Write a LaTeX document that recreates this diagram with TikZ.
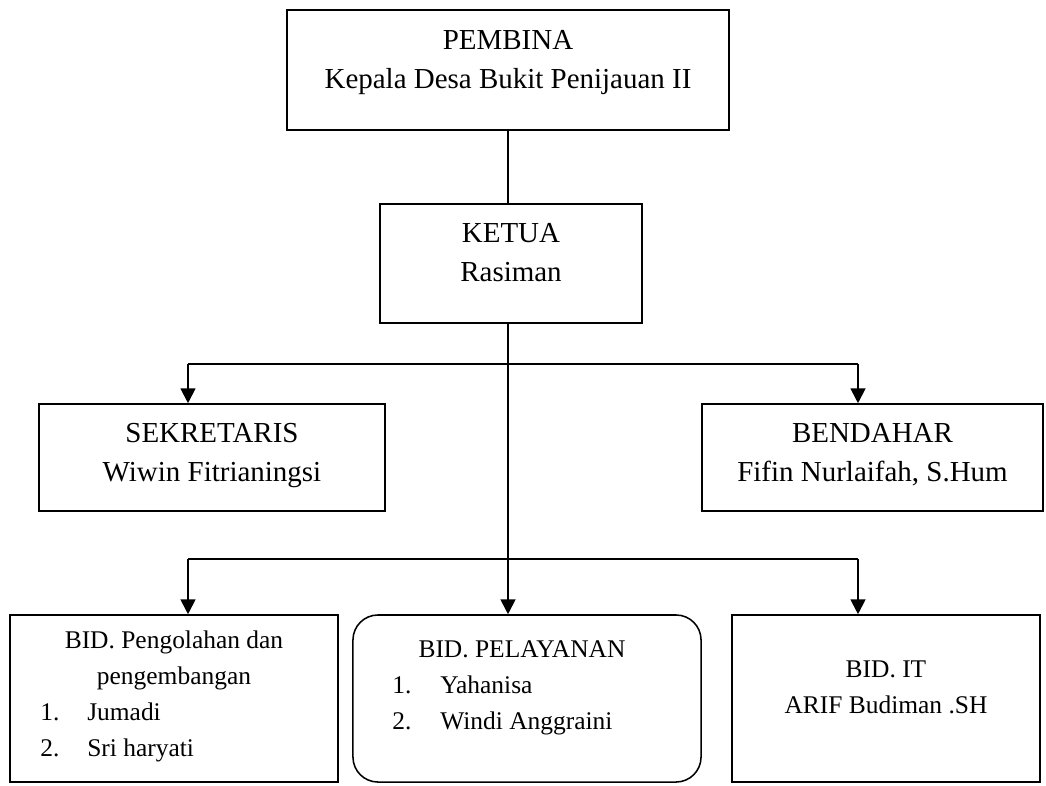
\documentclass[tikz,border=0pt]{standalone}
\usepackage{fontspec}
\setmainfont{Liberation Serif}
\usetikzlibrary{arrows.meta}

\begin{document}
\begin{tikzpicture}[x=0.025cm,y=-0.025cm,
  box/.style={draw,line width=1.1pt,inner sep=0pt},
  head/.style={inner sep=0pt,font=\fontsize{20.6}{28.4}\selectfont},
  bid/.style={inner sep=0pt,font=\fontsize{18.1}{25.6}\selectfont},
  link/.style={line width=1.1pt},
  down/.style={line width=1.4pt,-{Triangle[width=10.5pt,length=10.5pt]}}]

\useasboundingbox (0,0) rectangle (1046,785);

\node[box,minimum width=11.05cm,minimum height=3cm] (pembina) at (508,70) {};
\node[box,minimum width=6.55cm,minimum height=2.975cm] (ketua) at (511,263.5) {};
\node[box,minimum width=8.65cm,minimum height=2.675cm] (sekre) at (212,457.5) {};
\node[box,minimum width=8.525cm,minimum height=2.675cm] (benda) at (872.5,457.5) {};
\node[box,minimum width=8.2cm,minimum height=4.175cm] (olah) at (174,698.5) {};
\node[box,rounded corners=0.625cm,minimum width=8.7cm,minimum height=4.175cm] (layan) at (527,698.5) {};
\node[box,minimum width=7.7cm,minimum height=4.175cm] (it) at (886,698.5) {};

\node[head,anchor=base] (pembinatxt) at (508,49) {\begin{tabular}[t]{@{}c@{}}PEMBINA\\Kepala Desa Bukit Penijauan II\end{tabular}};
\node[head,anchor=base] (ketuatxt) at (511,242) {\begin{tabular}[t]{@{}c@{}}KETUA\\Rasiman\end{tabular}};
\node[head,anchor=base] (sekretxt) at (212,442) {\begin{tabular}[t]{@{}c@{}}SEKRETARIS\\Wiwin Fitrianingsi\end{tabular}};
\node[head,anchor=base] (bendatxt) at (872.5,442) {\begin{tabular}[t]{@{}c@{}}BENDAHAR\\Fifin Nurlaifah, S.Hum\end{tabular}};

\node[bid,anchor=base] (olahtxt) at (174,648) {\begin{tabular}[t]{@{}c@{}}BID. Pengolahan dan\\pengembangan\end{tabular}};
\node[bid,anchor=base west] (olahlist) at (40,720) {\begin{tabular}[t]{@{}p{1.175cm}@{}l@{}}1. & Jumadi\\2. & Sri haryati\end{tabular}};
\node[bid,anchor=base] (layantxt) at (522,657) {BID. PELAYANAN};
\node[bid,anchor=base west] (layanlist) at (392,693) {\begin{tabular}[t]{@{}p{1.2cm}@{}l@{}}1. & Yahanisa\\2. & Windi Anggraini\end{tabular}};
\node[bid,anchor=base] (ittxt) at (886,677) {\begin{tabular}[t]{@{}c@{}}BID. IT\\ARIF Budiman .SH\end{tabular}};

\coordinate (c1l) at (188,364);
\coordinate (c1r) at (858,364);
\coordinate (c2l) at (188,559);
\coordinate (c2r) at (858,559);

\draw[link] (pembina.south) -- (pembina.south |- ketua.north);
\draw[down] (pembina.south |- ketua.south) -- (pembina.south |- layan.north);
\draw[link] (c1l) -- (c1r);
\draw[down] (c1l) -- (c1l |- sekre.north);
\draw[down] (c1r) -- (c1r |- benda.north);
\draw[link] (c2l) -- (c2r);
\draw[down] (c2l) -- (c2l |- olah.north);
\draw[down] (c2r) -- (c2r |- it.north);

\end{tikzpicture}
\end{document}
